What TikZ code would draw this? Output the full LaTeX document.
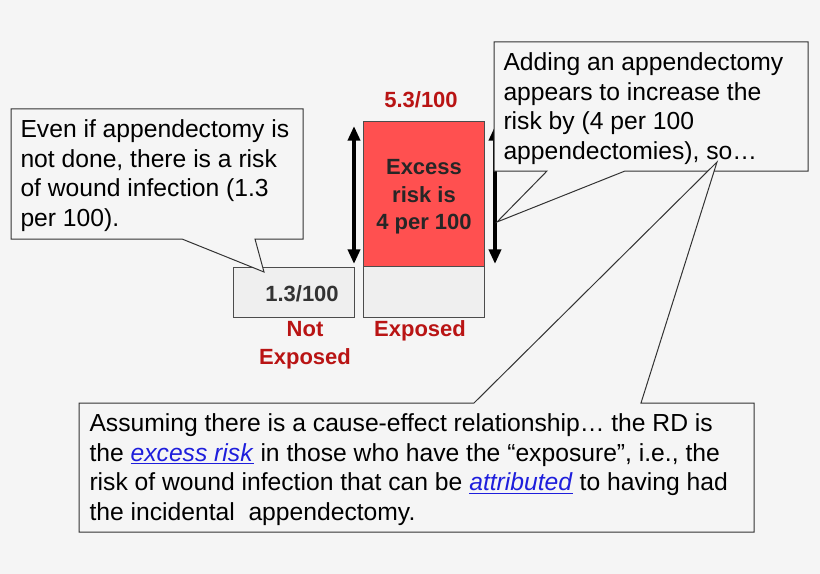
\documentclass[tikz,border=0pt]{standalone}
\usepackage{fontspec}
\setmainfont{Liberation Sans}
\usetikzlibrary{arrows.meta}
\definecolor{bgcol}{RGB}{245,245,245}
\definecolor{barred}{RGB}{255,80,80}
\definecolor{bargray}{RGB}{239,239,239}
\definecolor{labred}{RGB}{185,20,20}
\definecolor{linkblue}{RGB}{30,30,220}
\newcommand{\linktext}[1]{\textcolor{linkblue}{\underline{\textit{#1}}}}
\tikzset{every picture/.style={line width=0.75pt}}
\tikzset{
  callout/.style={draw=black!80, fill=bgcol},
  notetext/.style={anchor=north west, inner sep=0pt, align=left, font=\fontsize{18.5}{22.3}\selectfont},
  barlabel/.style={font=\fontsize{16.5}{21}\selectfont\bfseries, text=labred, align=center},
  bar/.style={draw=black!70},
  riskarrow/.style={line width=3pt, {Triangle[length=11pt,width=9pt]}-{Triangle[length=11pt,width=9pt]}}
}
\begin{document}
\begin{tikzpicture}[x=0.75pt,y=0.75pt,yscale=-1,xscale=1]
\fill[bgcol] (0,0) rectangle (820,574);

%Bars
\draw [bar, fill=bargray] (233,267) rectangle (354,317) ;
\draw [bar, fill=bargray] (363,266) rectangle (484,317) ;
\draw [bar, fill=barred] (363,122) rectangle (484,266) ;
\node (notexp) at (302,294) [font=\fontsize{16.5}{20}\selectfont\bfseries, text=black!80] {1.3/100};
\node (excess) at (424,197) [align=center, font=\fontsize{16.5}{20.5}\selectfont\bfseries, text=black!85] {Excess\\risk is\\4 per 100};
\node (toplab) at (421,100) [barlabel] {5.3/100};
\node (lab1) at (305,345) [barlabel] {Not\\Exposed};
\node (lab2) at (420,331) [barlabel] {Exposed};

%Arrows
\coordinate (la1) at (354,126); \coordinate (la2) at (354,264);
\coordinate (ra1) at (495,126); \coordinate (ra2) at (495,264);
\draw [riskarrow] (la1) -- (la2) ;
\draw [riskarrow] (ra1) -- (ra2) ;

%Left callout
\draw [callout] (11,109) -- (303,109) -- (303,239) -- (255,239) -- (264,272) -- (182,239) -- (11,239) -- cycle ;
\node (lefttext) at (20,119) [notetext] {Even if appendectomy is\\not done, there is a risk\\of wound infection (1.3\\per 100).};

%Right callout
\draw [callout] (494,42) -- (808,42) -- (808,171) -- (625,171) -- (497,222) -- (547,171) -- (494,171) -- cycle ;
\node (righttext) at (503,52) [notetext] {Adding an appendectomy\\appears to increase the\\risk by (4 per 100\\appendectomies), so\ldots};

%Bottom callout
\draw [callout] (79,403) -- (474,403) -- (717,162) -- (641,403) -- (754,403) -- (754,532) -- (79,532) -- cycle ;
\node (bottomtext) at (89,413) [notetext] {Assuming there is a cause-effect relationship\ldots\ the RD is\\the \linktext{excess risk} in those who have the \textquotedblleft exposure\textquotedblright, i.e., the\\risk of wound infection that can be \linktext{attributed} to having had\\the incidental\ \ appendectomy.};

\end{tikzpicture}
\end{document}
